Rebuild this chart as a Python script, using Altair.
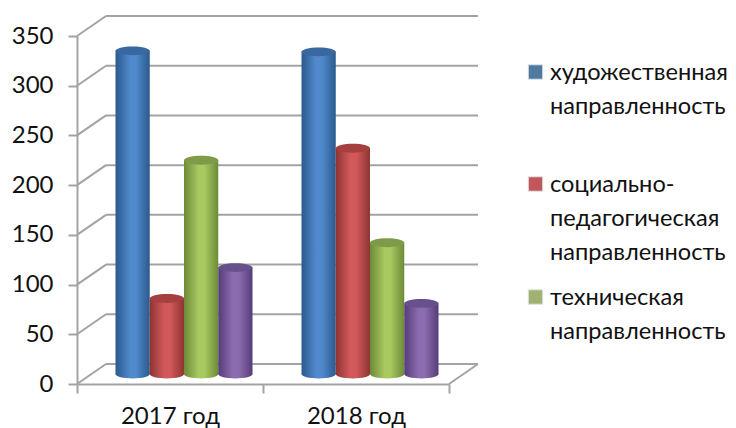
import altair as alt
import pandas as pd

years = ["2017 год", "2018 год"]
series = ["художественная направленность", "социально-педагогическая направленность",
          "техническая направленность", "другая направленность"]
values_2017 = [325, 76, 215, 107]
values_2018 = [324, 227, 132, 71]
ticks = [0, 50, 100, 150, 200, 250, 300, 350]
edge_colors = ["#2b5a8e", "#8e3432", "#6d8a38", "#553c78"]
mid_colors = ["#5089cc", "#d2585a", "#a8c860", "#8c6cb0"]
top_colors = ["#38689f", "#a5403e", "#7f9b4a", "#68508c"]
legend_colors = ["#50799f", "#c2575a", "#9fb272"]
legend_texts = [
    ["художественная", "направленность"],
    ["социально-", "педагогическая", "направленность"],
    ["техническая", "направленность"],
]

FONT = "Lato"
GRID = "#a3a3a3"
W, H = 372, 348
DEPTH_X, DEPTH_PX = 29, 20
ELLIPSE = "M-1,0A1,0.26,0,1,0,1,0A1,0.26,0,1,0,-1,0Z"

rows = []
for y, vals in zip(years, [values_2017, values_2018]):
    for s, v in zip(series, vals):
        rows.append({"year": y, "series": s, "value": v, "base": 0})
df = pd.DataFrame(rows)

grid_df = pd.DataFrame({"v": ticks})
grid_df["up"] = grid_df["v"] + DEPTH_PX * 350 / H

y_scale = alt.Scale(domain=[0, 350], nice=False)
y_axis = alt.Axis(values=ticks, grid=False, domainColor=GRID, domainWidth=2,
                  tickColor=GRID, tickWidth=2, tickSize=9, labelFontSize=24,
                  labelFont=FONT, labelColor="#111111", labelPadding=15)
x_enc = alt.X("year:N", sort=years, title=None,
              scale=alt.Scale(paddingInner=0, paddingOuter=0),
              axis=alt.Axis(labelAngle=0, tickBand="extent", domainColor=GRID, domainWidth=2,
                            tickColor=GRID, tickWidth=2, tickSize=9, labelFontSize=24,
                            labelFont=FONT, labelColor="#111111", labelPadding=11, labelBaseline="top"))
xo_enc = alt.XOffset("series:N", sort=series,
                     scale=alt.Scale(domain=series, range=[38.5, 175.5], paddingInner=0, paddingOuter=0))


def y_of(field):
    return alt.Y(field, scale=y_scale, title=None, axis=y_axis)


layers = []

# Side-wall diagonals and back-wall gridlines
layers.append(alt.Chart(grid_df).mark_rule(color=GRID, strokeWidth=2).encode(
    x=alt.value(DEPTH_X), x2=alt.value(W + DEPTH_X), y=y_of("up:Q")))
layers.append(alt.Chart(grid_df).mark_rule(color=GRID, strokeWidth=2).encode(
    x=alt.value(0), x2=alt.value(DEPTH_X), y=y_of("v:Q"), y2="up:Q"))
layers.append(alt.Chart(grid_df[grid_df.v == 0]).mark_rule(color=GRID, strokeWidth=2).encode(
    x=alt.value(W), x2=alt.value(W + DEPTH_X), y=y_of("v:Q"), y2="up:Q"))

for i, s in enumerate(series):
    sub = df[df.series == s]
    grad = alt.Gradient(gradient="linear", x1=0, x2=1, y1=0, y2=0, stops=[
        alt.GradientStop(color=edge_colors[i], offset=0),
        alt.GradientStop(color=mid_colors[i], offset=0.42),
        alt.GradientStop(color=mid_colors[i], offset=0.6),
        alt.GradientStop(color=edge_colors[i], offset=1),
    ])
    base = alt.Chart(sub)
    layers.append(base.mark_point(shape=ELLIPSE, size=1170, filled=True, fill=grad, opacity=1,
                                  strokeWidth=0, yOffset=-10).encode(
        x=x_enc, xOffset=xo_enc, y=y_of("base:Q")))
    layers.append(base.mark_bar(fill=grad, yOffset=-10, y2Offset=-10, width=34.25).encode(
        x=x_enc, xOffset=xo_enc, y=y_of("value:Q"), y2="base:Q"))
    layers.append(base.mark_point(shape=ELLIPSE, size=1170, filled=True, fill=top_colors[i], opacity=1,
                                  strokeWidth=0, yOffset=-10).encode(
        x=x_enc, xOffset=xo_enc, y=y_of("value:Q")))

# Legend
one = pd.DataFrame({"k": [0]})
legend_y = [36, 148, 261]
for c, lines, ly in zip(legend_colors, legend_texts, legend_y):
    layers.append(alt.Chart(one).mark_square(size=210, color=c, opacity=1, stroke="#dfe5ec", strokeWidth=1).encode(
        x=alt.value(458.5), y=alt.value(ly)))
    layers.append(alt.Chart(one).mark_text(text=lines, align="left", baseline="alphabetic", font=FONT,
                                           fontSize=23.6, lineHeight=34, color="#111111").encode(
        x=alt.value(473), y=alt.value(ly + 8)))

chart = alt.layer(*layers).properties(
    width=W, height=H,
    padding={"left": 69, "top": 28, "right": 279, "bottom": 44},
    autosize=alt.AutoSizeParams(type="none"),
    background="white",
).configure_view(stroke=None)

chart.save("out.html", embed_options={"renderer": "svg", "actions": False})
